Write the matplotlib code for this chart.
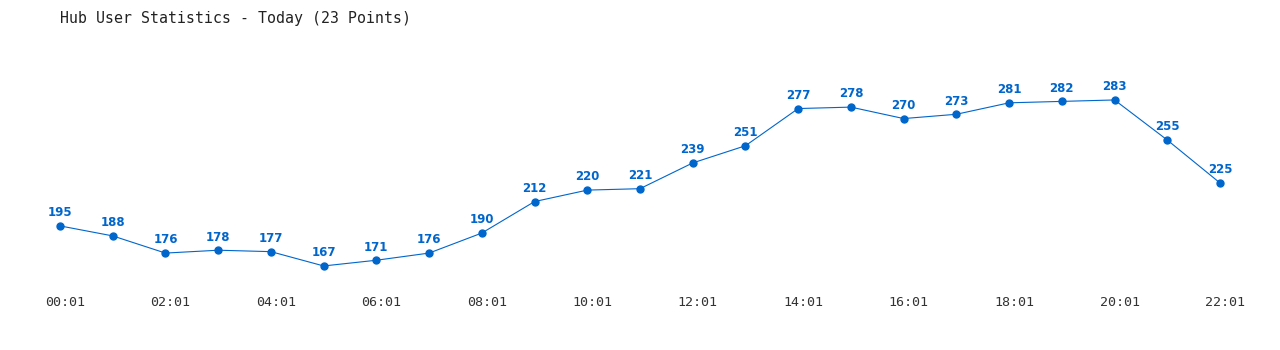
import numpy as np
import matplotlib.pyplot as plt
import matplotlib.transforms as mtransforms

## Data ##

hours = list(range(23))
users = [195, 188, 176, 178, 177, 167, 171, 176, 190, 212, 220, 221,
         239, 251, 277, 278, 270, 273, 281, 282, 283, 255, 225]
tick_hours = [0, 2, 4, 6, 8, 10, 12, 14, 16, 18, 20, 22]
tick_labels = ['%02d:01' % h for h in tick_hours]

blue = '#0066cc'

fig = plt.figure(figsize=(12.8, 3.5), dpi=100)

## axes spans pixel x 40..1240, y 40..290 ##
ax = fig.add_axes([40 / 1280, 60 / 350, 1200 / 1280, 250 / 350])

ax.plot(hours, users, color=blue, linewidth=0.8, marker='o',
        markersize=5, clip_on=False)

for h, v in zip(hours, users):
    ax.annotate(str(v), (h, v), xytext=(0, 9.5), textcoords='offset points',
                ha='center', va='center', color=blue, fontsize=8.5,
                fontweight='bold', family='DejaVu Sans')

pad = 20 / (1160 / 22)
ax.set_xlim(-pad, 22 + pad)
ax.set_ylim(150.2, 324.9)

ax.set_xticks(tick_hours)
ax.set_xticklabels(tick_labels, family='DejaVu Sans Mono', fontsize=9.6,
                   color='#333333')
ax.tick_params(axis='x', length=0, pad=4.5)
## the reference labels sit a few pixels right of their points ##
shift = mtransforms.ScaledTranslation(5 / 100, 0, fig.dpi_scale_trans)
for lab in ax.get_xticklabels():
    lab.set_transform(lab.get_transform() + shift)
ax.set_yticks([])
for s in ax.spines.values():
    s.set_visible(False)

fig.text(60 / 1280, 1 - 18 / 350, 'Hub User Statistics - Today (23 Points)',
         family='DejaVu Sans Mono', fontsize=10.7, color='#222222',
         ha='left', va='center')

fig.savefig('out.png', dpi=100, facecolor='white')
